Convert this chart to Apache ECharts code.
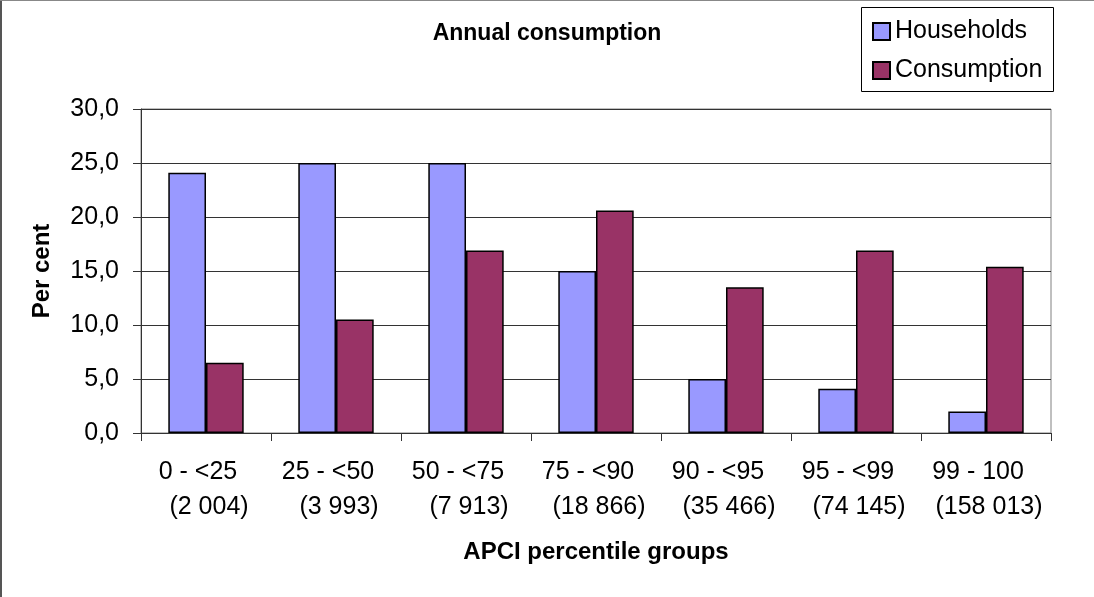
<!DOCTYPE html>
<html>
<head>
<meta charset="utf-8">
<script src="https://cdn.jsdelivr.net/npm/echarts@6/dist/echarts.min.js"></script>
<style>
html,body{margin:0;padding:0;background:#fff;}
#chart{width:1094px;height:597px;}
</style>
</head>
<body>
<div id="chart"></div>
<script>
const groupLabels = ['0 - <25', '25 - <50', '50 - <75', '75 - <90', '90 - <95', '95 - <99', '99 - 100'];
const groupAPCI = ['(2 004)', '(3 993)', '(7 913)', '(18 866)', '(35 466)', '(74 145)', '(158 013)'];
const households = [24.1, 25.0, 25.0, 15.0, 5.0, 4.1, 2.0];
const consumption = [6.5, 10.5, 16.9, 20.6, 13.5, 16.9, 15.4];
const seriesNames = ['Households', 'Consumption'];
const titleText = 'Annual consumption';
const yName = 'Per cent';
const xName = 'APCI percentile groups';

const FONT = '"Liberation Sans", Arial, sans-serif';
const categories = groupLabels.map((g, i) => g + '\n' + groupAPCI[i]);

const chart = echarts.init(document.getElementById('chart'), null, {renderer: 'canvas'});
chart.setOption({
  backgroundColor: '#ffffff',
  animation: false,
  textStyle: {fontFamily: FONT},
  title: {
    text: titleText,
    left: 'center',
    top: 22,
    padding: 0,
    textStyle: {fontFamily: FONT, fontSize: 23, fontWeight: 'bold', color: '#000'}
  },
  legend: {
    orient: 'vertical',
    left: 861,
    top: 7,
    padding: [12, 0, 0, 11],
    itemGap: 14,
    itemWidth: 17,
    itemHeight: 17,
    itemTextGap: 7,
    icon: 'rect',
    borderWidth: 0,
    textStyle: {fontFamily: FONT, fontSize: 25, color: '#000', lineHeight: 25},
    data: seriesNames
  },
  grid: {left: 141, right: 43, top: 109, bottom: 164, show: true, borderColor: '#808080', borderWidth: 1},
  xAxis: {
    type: 'category',
    data: categories,
    name: xName,
    nameLocation: 'middle',
    nameGap: 107,
    nameTextStyle: {fontFamily: FONT, fontSize: 24, fontWeight: 'bold', color: '#000'},
    axisLine: {show: true, lineStyle: {color: '#333', width: 1}},
    axisTick: {show: true, inside: false, length: 8, lineStyle: {color: '#333'}},
    axisLabel: {
      interval: 0,
      margin: 22,
      color: '#000',
      fontFamily: FONT,
      fontSize: 25,
      formatter: function (v) {
        const parts = v.split('\n');
        return '{a|' + parts[0] + '}\n{b|' + parts[1] + '}';
      },
      rich: {
        a: {fontFamily: FONT, fontSize: 25, color: '#000', lineHeight: 35, padding: [0, 16, 0, 0]},
        b: {fontFamily: FONT, fontSize: 25, color: '#000', lineHeight: 35, padding: [0, 0, 0, 6]}
      }
    },
    splitLine: {show: false}
  },
  yAxis: {
    type: 'value',
    min: 0,
    max: 30,
    interval: 5,
    name: yName,
    nameLocation: 'middle',
    nameRotate: 90,
    nameGap: 87,
    nameTextStyle: {fontFamily: FONT, fontSize: 24, fontWeight: 'bold', color: '#000'},
    axisLine: {show: true, lineStyle: {color: '#333', width: 1}},
    axisTick: {show: true, inside: false, length: 8, lineStyle: {color: '#333'}},
    axisLabel: {
      margin: 22,
      color: '#000',
      fontFamily: FONT,
      fontSize: 25,
      formatter: function (v) { return v.toFixed(1).replace('.', ','); }
    },
    splitLine: {show: true, lineStyle: {color: '#333', width: 1}}
  },
  series: [
    {
      name: seriesNames[0],
      type: 'bar',
      data: households,
      barGap: '0%',
      barCategoryGap: '42%',
      itemStyle: {color: '#9999FF', borderColor: '#000', borderWidth: 1.5}
    },
    {
      name: seriesNames[1],
      type: 'bar',
      data: consumption,
      barGap: '0%',
      barCategoryGap: '42%',
      itemStyle: {color: '#993366', borderColor: '#000', borderWidth: 1.5}
    }
  ],
  graphic: [
    {type: 'rect', left: 0, top: 0, shape: {width: 2, height: 597}, style: {fill: '#555'}, silent: true},
    {type: 'rect', left: 0, top: 0, shape: {width: 1094, height: 1}, style: {fill: '#888'}, silent: true},
    {type: 'rect', left: 861, top: 7, z: -1, shape: {width: 192, height: 84}, style: {fill: '#fff', stroke: '#000', lineWidth: 1}, silent: true}
  ]
});
</script>
</body>
</html>
